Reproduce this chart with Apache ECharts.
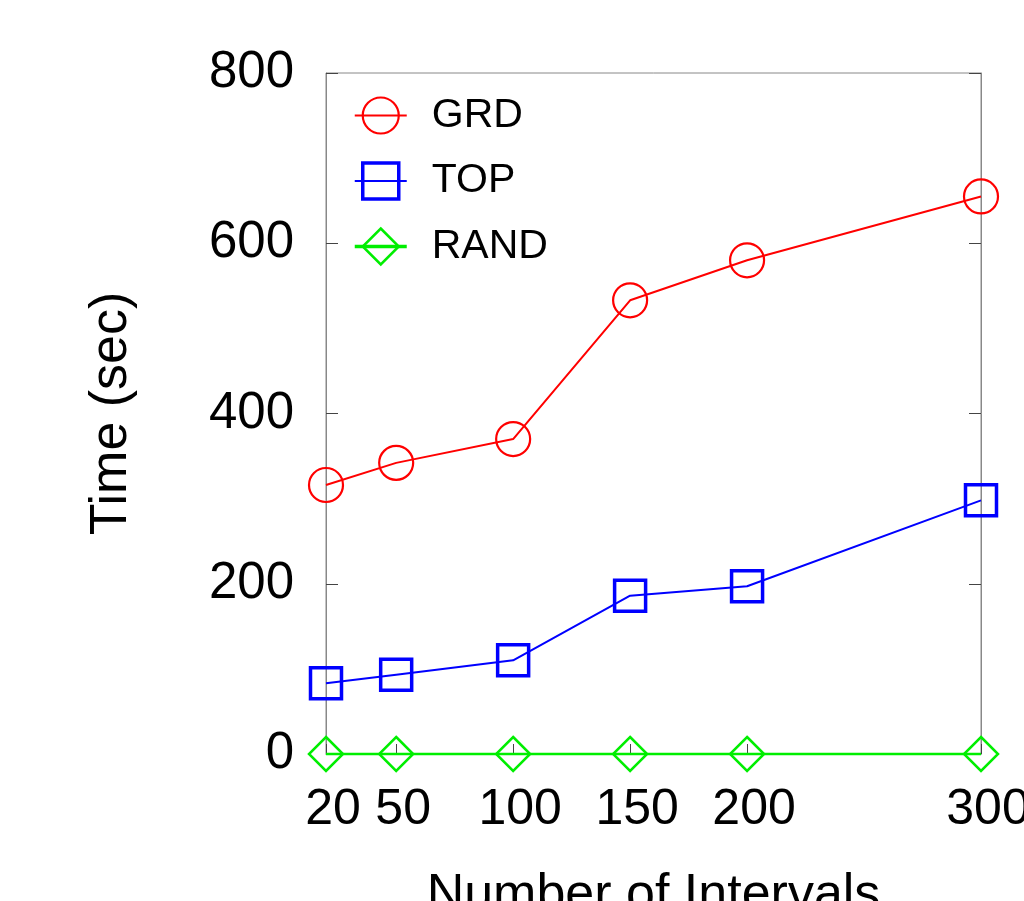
<!DOCTYPE html>
<html>
<head>
<meta charset="utf-8">
<script src="https://cdn.jsdelivr.net/npm/echarts@6/dist/echarts.min.js"></script>
<style>
html,body{margin:0;padding:0;background:#fff;}
#chart{width:1024px;height:901px;}
</style>
</head>
<body>
<div id="chart"></div>
<script>
const intervals = [20, 50, 100, 150, 200, 300];
const xTickLabels = [20, 50, 100, 150, 200, 300];
const grdTime = [316, 342, 370, 533, 580, 655];
const topTime = [83, 93, 110, 186, 197, 298];
const randTime = [0, 0, 0, 0, 0, 0];
const seriesNames = ['GRD', 'TOP', 'RAND'];

const FONT = 'Liberation Sans, Arial, Helvetica, sans-serif';
function pairs(xs, ys) { return xs.map((x, i) => [x, ys[i]]); }

const chart = echarts.init(document.getElementById('chart'), null, {renderer: 'canvas'});
chart.setOption({
  animation: false,
  backgroundColor: '#fff',
  grid: {left: 326, right: 43, top: 73, bottom: 147, outerBoundsMode: 'none', containLabel: false,
         show: true, borderColor: '#888', borderWidth: 1, backgroundColor: 'transparent'},
  legend: {
    left: 348, top: 90, orient: 'vertical',
    itemWidth: 52, itemHeight: 45, itemGap: 24.5,
    data: [
      {name: seriesNames[0], itemStyle: {borderWidth: 2.2}, lineStyle: {width: 2}},
      {name: seriesNames[1], itemStyle: {borderWidth: 3.5}, lineStyle: {width: 2}},
      {name: seriesNames[2], itemStyle: {borderWidth: 2.5}, lineStyle: {width: 3.5}}
    ],
    textStyle: {fontFamily: FONT, fontSize: 41, color: '#000', lineHeight: 41, padding: [0, 0, 0, 20]}
  },
  xAxis: {
    type: 'value', min: 20, max: 300,
    name: 'Number of Intervals', nameLocation: 'middle', nameGap: 116,
    nameTextStyle: {fontFamily: FONT, fontSize: 52, color: '#000'},
    axisLine: {show: true, lineStyle: {color: '#888', width: 1}},
    axisTick: {show: true, inside: true, length: 10, lineStyle: {color: '#444'}, customValues: xTickLabels},
    axisLabel: {fontFamily: FONT, fontSize: 50, color: '#000', margin: 31, padding: [0, 0, 0, 14], customValues: xTickLabels},
    splitLine: {show: false}
  },
  yAxis: [{
    type: 'value', min: 0, max: 800, interval: 200, position: 'left',
    name: 'Time (sec)', nameLocation: 'middle', nameGap: 188,
    nameTextStyle: {fontFamily: FONT, fontSize: 52, color: '#000'},
    axisLine: {show: true, lineStyle: {color: '#888', width: 1}},
    axisTick: {show: true, inside: true, length: 12, lineStyle: {color: '#444'}},
    axisLabel: {fontFamily: FONT, fontSize: 51, color: '#000', margin: 32, padding: [4, 0, 0, 0]},
    splitLine: {show: false}
  }, {
    type: 'value', min: 0, max: 800, interval: 200, position: 'right',
    axisLine: {show: true, lineStyle: {color: '#888', width: 1}},
    axisTick: {show: true, inside: true, length: 12, lineStyle: {color: '#444'}},
    axisLabel: {show: false},
    splitLine: {show: false}
  }],
  series: [{
    name: seriesNames[0], type: 'line', clip: false,
    data: pairs(intervals, grdTime),
    symbol: 'circle', symbolSize: 34,
    lineStyle: {color: '#ff0000', width: 2},
    itemStyle: {color: 'rgba(0,0,0,0)', borderColor: '#ff0000', borderWidth: 2.2}
  }, {
    name: seriesNames[1], type: 'line', clip: false,
    data: pairs(intervals, topTime),
    symbol: 'rect', symbolSize: 31,
    lineStyle: {color: '#0000ff', width: 2},
    itemStyle: {color: 'rgba(0,0,0,0)', borderColor: '#0000ff', borderWidth: 3.5}
  }, {
    name: seriesNames[2], type: 'line', clip: false,
    data: pairs(intervals, randTime),
    symbol: 'diamond', symbolSize: 34,
    lineStyle: {color: '#00ee00', width: 2.5},
    itemStyle: {color: 'rgba(0,0,0,0)', borderColor: '#00ee00', borderWidth: 2.5}
  }]
});
</script>
</body>
</html>
